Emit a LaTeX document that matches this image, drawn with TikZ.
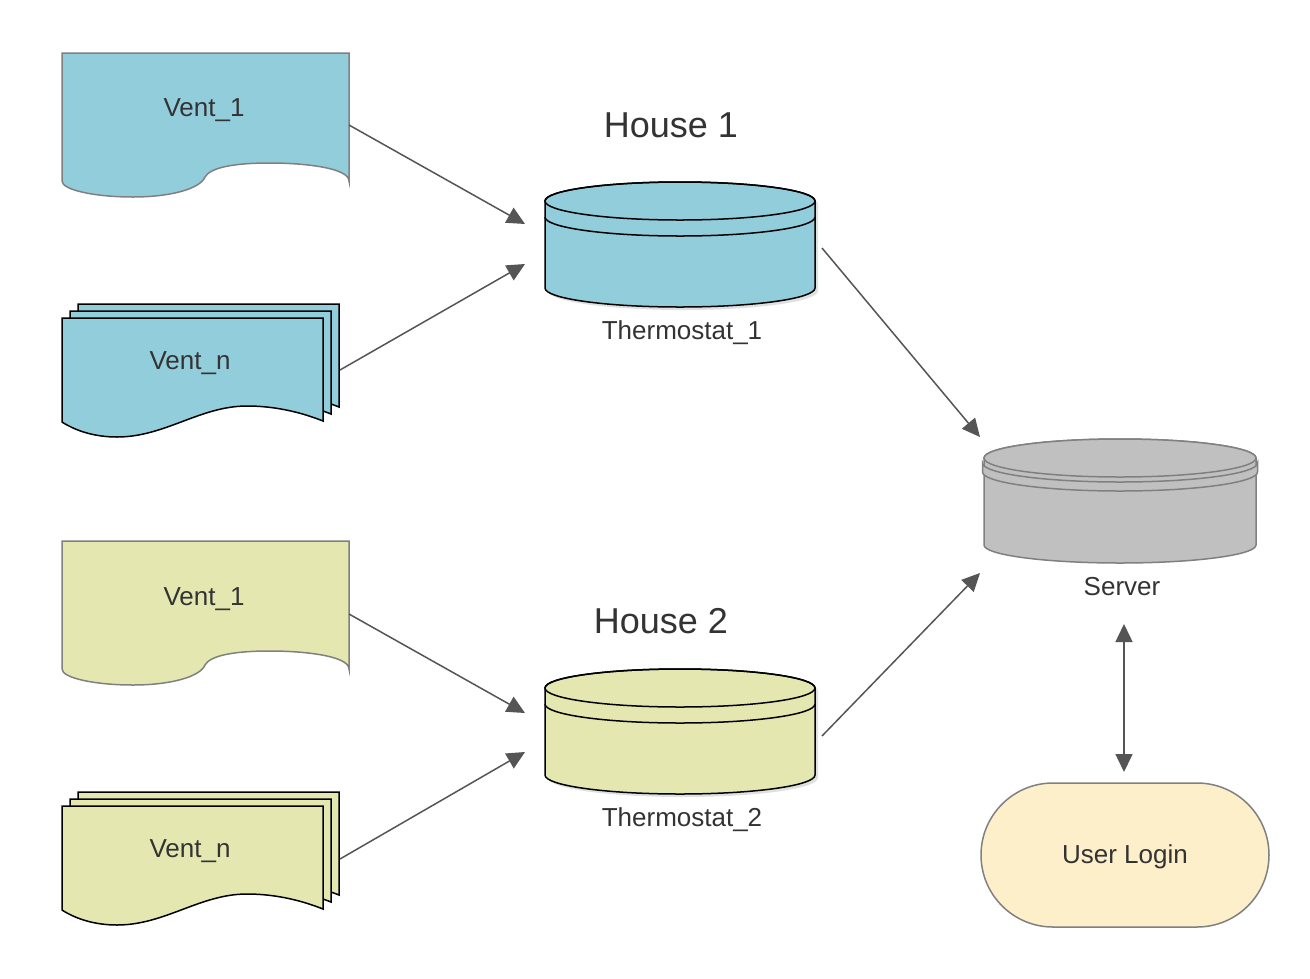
\documentclass[tikz,border=0pt]{standalone}
\usepackage{fontspec}
\setmainfont{Liberation Sans}
\usetikzlibrary{arrows.meta,shapes.misc}
\definecolor{blueF}{HTML}{92CDDC}
\definecolor{yelF}{HTML}{E4E8B0}
\definecolor{grayS}{HTML}{808080}
\definecolor{srvF}{HTML}{C0C0C0}
\definecolor{loginF}{HTML}{FDEFCA}
\definecolor{txt}{HTML}{333333}
\definecolor{arrC}{HTML}{555555}

\newcommand\ventone[1]{%
  \path[docA, fill=#1] (62,-53) -- (349,-53) -- (349,-181)
    .. controls (349,-168) and (305,-163) .. (270,-163)
    .. controls (232,-163) and (210,-168) .. (205,-177)
    .. controls (200,-189) and (170,-197) .. (133,-197)
    .. controls (95,-197) and (62,-190) .. (62,-181) -- cycle;}
\newcommand\ventpage[3]{%
  \path[docB, fill=#3, shift={(#1,#2)}] (62,-318) -- (323,-318) -- (323,-421)
    .. controls (298,-411) and (272,-406) .. (247,-406)
    .. controls (200,-406) and (165,-437) .. (117,-437)
    .. controls (95,-437) and (76,-431) .. (62,-422) -- cycle;}
\newcommand\ventstack[1]{\ventpage{16}{14}{#1}\ventpage{8}{7}{#1}\ventpage{0}{0}{#1}}
\newcommand\thermo[1]{%
  \fill[black, opacity=0.12, shift={(3,-3)}] (545,-201) -- (545,-288) arc[start angle=180,end angle=360,x radius=135,y radius=19] -- (815,-201) arc[start angle=0,end angle=180,x radius=135,y radius=19] -- cycle;
  \path[cyl, fill=#1] (545,-201) -- (545,-288) arc[start angle=180,end angle=360,x radius=135,y radius=19] -- (815,-201) arc[start angle=0,end angle=180,x radius=135,y radius=19] -- cycle;
  \draw[cyl] (680,-201) ellipse[x radius=135, y radius=19];
  \draw[cyl] (545,-217) arc[start angle=180,end angle=360,x radius=135,y radius=19];}

\begin{document}
\begin{tikzpicture}[x=1pt,y=1pt,
  lbl/.style={font=\fontsize{26}{30}\selectfont, text=txt, anchor=base, inner sep=0pt},
  ttl/.style={font=\fontsize{36}{42}\selectfont, text=txt, anchor=base, inner sep=0pt},
  conn/.style={draw=arrC, line width=1.5pt, -{Triangle[length=18pt,width=17pt]}},
  conn2/.style={draw=arrC, line width=1.5pt, {Triangle[length=18pt,width=17pt]}-{Triangle[length=18pt,width=17pt]}},
  docA/.style={draw=grayS, line width=1.5pt},
  docB/.style={draw=black, line width=1.5pt},
  cyl/.style={draw=black, line width=1.5pt},
  srv/.style={draw=grayS, line width=1.5pt, fill=srvF},
]
\useasboundingbox (0,0) rectangle (1310,-978);
\fill[white] (0,0) rectangle (1310,-978);

% House 1
\ventone{blueF}
\ventstack{blueF}
\thermo{blueF}
% House 2
\begin{scope}[yshift=-488pt]
\ventone{yelF}
\ventstack{yelF}
\end{scope}
\begin{scope}[yshift=-487pt]
\thermo{yelF}
\end{scope}

% Server
\path[srv] (984,-458) -- (984,-545) arc[start angle=180,end angle=360,x radius=136,y radius=18] -- (1256,-458) arc[start angle=0,end angle=180,x radius=136,y radius=19] -- cycle;
\path[srv] (982.5,-463) -- (982.5,-472) arc[start angle=180,end angle=360,x radius=137.5,y radius=19] -- (1257.5,-463) arc[start angle=360,end angle=180,x radius=137.5,y radius=19] -- cycle;
\path[srv] (1120,-458) ellipse[x radius=136, y radius=19];

% User login
\node[rounded rectangle, draw=grayS, line width=1.5pt, fill=loginF, minimum width=288pt, minimum height=144pt, inner sep=0pt, text height=16pt, text depth=0pt, font=\fontsize{26}{30}\selectfont, text=txt] (login) at (1125,-855) {User Login};

% Labels
\node[lbl] (v1a) at (204,-116) {Vent\_1};
\node[lbl] (vna) at (190,-369) {Vent\_n};
\node[lbl] (t1) at (682,-339) {Thermostat\_1};
\node[ttl] (h1) at (671,-137) {House 1};
\node[lbl] (srvl) at (1122,-595) {Server};
\node[ttl] (h2) at (661,-633) {House 2};
\node[lbl] (v1b) at (204,-605) {Vent\_1};
\node[lbl] (vnb) at (190,-857) {Vent\_n};
\node[lbl] (t2) at (682,-826) {Thermostat\_2};

% Connector ends
\coordinate (a1s) at (349,-125); \coordinate (a1e) at (525,-224);
\coordinate (a2s) at (340,-370); \coordinate (a2e) at (525,-264);
\coordinate (a3s) at (822,-248); \coordinate (a3e) at (980,-437);
\coordinate (a4s) at (349,-614); \coordinate (a4e) at (525,-713);
\coordinate (a5s) at (340,-859); \coordinate (a5e) at (525,-752);
\coordinate (a6s) at (822,-736); \coordinate (a6e) at (980,-573);
\coordinate (a7s) at (1124,-624); \coordinate (a7e) at (1124,-772);

\draw[conn] (a1s) -- (a1e);
\draw[conn] (a2s) -- (a2e);
\draw[conn] (a3s) -- (a3e);
\draw[conn] (a4s) -- (a4e);
\draw[conn] (a5s) -- (a5e);
\draw[conn] (a6s) -- (a6e);
\draw[conn2] (a7s) -- (a7e);
\end{tikzpicture}
\end{document}
